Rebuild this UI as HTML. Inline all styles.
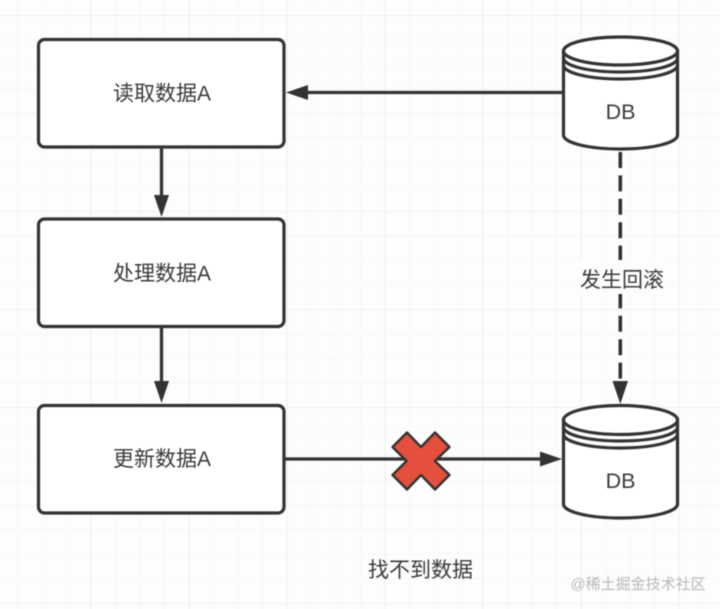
<!DOCTYPE html>
<html lang="zh">
<head>
<meta charset="utf-8">
<style>
html,body{margin:0;padding:0;background:#fdfdfd}
svg{display:block;filter:blur(.5px)}
text{font-family:"Liberation Sans","Noto Sans CJK SC",sans-serif;fill:#3a3a3a;text-anchor:middle}
</style>
</head>
<body>
<svg width="720" height="609" viewBox="0 0 720 609" xmlns="http://www.w3.org/2000/svg">
<defs>
<pattern id="minor" width="24.5" height="24.5" patternUnits="userSpaceOnUse" x="17.5" y="15">
<path d="M0 0H24.5M0 0V24.5" fill="none" stroke="#f5f5f5" stroke-width="1.4"/>
</pattern>
<pattern id="major" width="98" height="98" patternUnits="userSpaceOnUse" x="90.5" y="15">
<path d="M0 0H98M0 0V98" fill="none" stroke="#f0f0f0" stroke-width="2.2"/>
</pattern>
</defs>
<rect width="720" height="609" fill="#fdfdfd"/>
<rect width="720" height="609" fill="url(#minor)"/>
<rect width="720" height="609" fill="url(#major)"/>

<g fill="#fff" stroke="#333" stroke-width="3.2">
<rect x="38.5" y="39.5" width="245.500" height="107.500" rx="6"/>
<rect x="38.5" y="219" width="245.500" height="107.500" rx="6"/>
<rect x="38.5" y="405.500" width="245.500" height="107.500" rx="6"/>
</g>
<text x="162" y="100.500" font-size="21">读取数据A</text>
<text x="162" y="280.500" font-size="21">处理数据A</text>
<text x="162" y="466" font-size="21">更新数据A</text>

<g stroke="#333" stroke-width="3.300" fill="none">
<path d="M161.500 148V197"/>
<path d="M161.500 327V383"/>
<path d="M563 92.500H304"/>
<path d="M285 459H542"/>
<path d="M620.300 152V384" stroke-dasharray="16 7.400" stroke-width="3.600"/>
</g>
<g fill="#333">
<path d="M154 195H169L161.500 217Z"/>
<path d="M154 381H169L161.500 403Z"/>
<path d="M286 92.500L308 85V100Z"/>
<path d="M562 459L540 451.500V466.500Z"/>
<path d="M612.500 381H628L620.300 404Z"/>
</g>

<g fill="#fff" stroke="#333" stroke-width="3.200">
<path d="M563.500 51V135C563.500 143 589 149 620.500 149S677.500 143 677.500 135V51Z"/>
<ellipse cx="620.500" cy="51" rx="57" ry="14"/>
<path d="M563.500 58C563.500 66 589 72 620.500 72S677.500 66 677.500 58" fill="none"/>
<path d="M563.500 65C563.500 73 589 79 620.500 79S677.500 73 677.500 65" fill="none"/>
<path d="M563.500 420V504C563.500 512 589 518 620.500 518S677.500 512 677.500 504V420Z"/>
<ellipse cx="620.500" cy="420" rx="57" ry="14.500"/>
<path d="M563.500 427C563.500 435 589 441 620.500 441S677.500 435 677.500 427" fill="none"/>
<path d="M563.500 434C563.500 442 589 448 620.500 448S677.500 442 677.500 434" fill="none"/>
</g>
<text x="620.500" y="119" font-size="21.500">DB</text>
<text x="620.500" y="488" font-size="21.500">DB</text>

<rect x="578" y="260" width="88" height="34" fill="#fdfdfd"/>
<text x="622" y="287" font-size="21">发生回滚</text>

<path d="M407 432.500L421 447L435 432.500L449.500 447L435 461L449.500 475L435 489.500L421 475L407 489.500L392.500 475L406.500 461L392.500 447Z" fill="#e44f3e" stroke="#333" stroke-width="2.400" stroke-linejoin="round"/>

<text x="420.500" y="577" font-size="21">找不到数据</text>
<text x="638" y="589" font-size="15" style="fill:#b8b8b8">@稀土掘金技术社区</text>
</svg>
</body>
</html>
